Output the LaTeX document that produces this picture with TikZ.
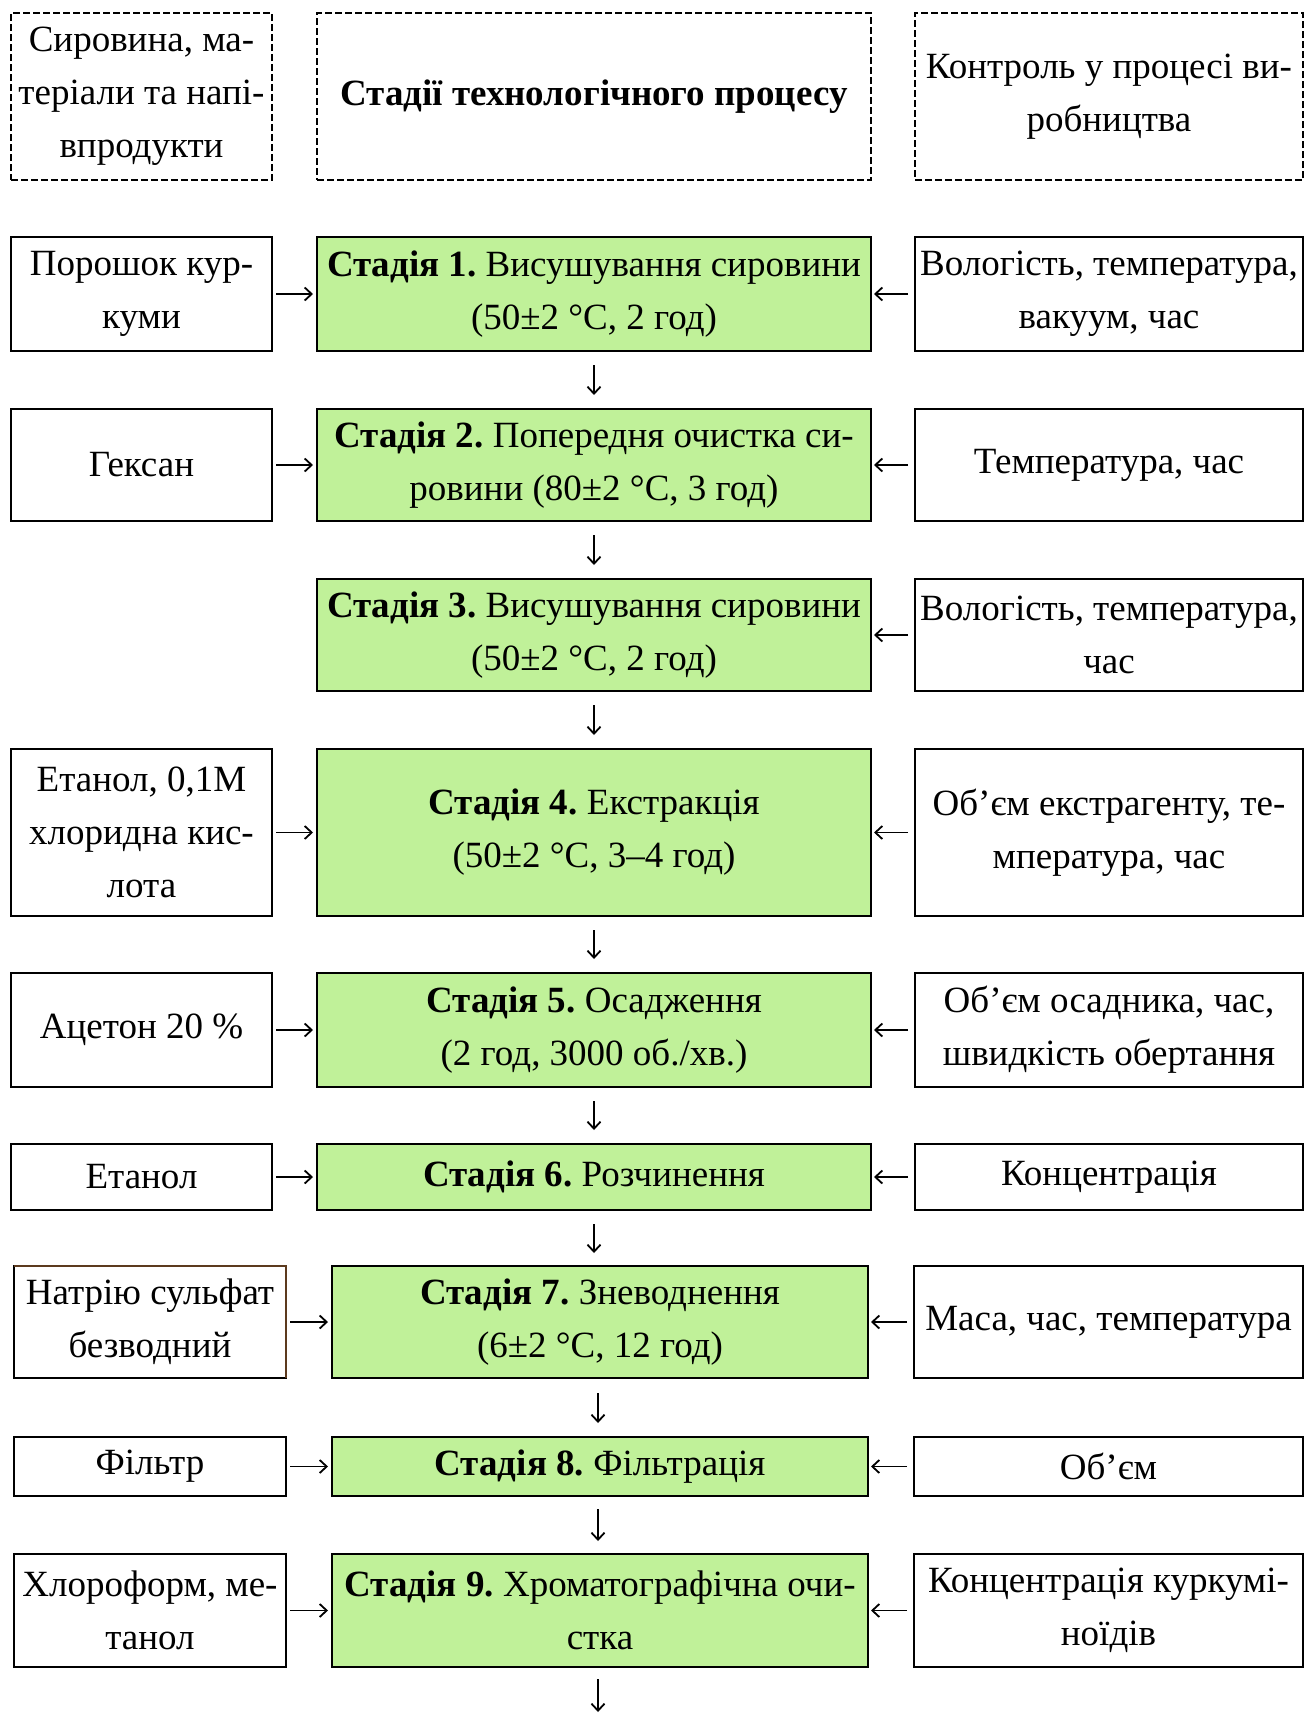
\documentclass[tikz,border=0pt]{standalone}
\usepackage{fontspec}
\setmainfont{Liberation Serif}
\usetikzlibrary{arrows.meta}
\frenchspacing
\definecolor{stagegreen}{RGB}{192,241,153}
\definecolor{brownedge}{RGB}{92,58,30}
\tikzset{
  txt/.style={align=center, inner sep=0pt, outer sep=0pt, font=\fontsize{37}{53}\selectfont},
  hdrbox/.style={txt, draw, line width=2pt, dash pattern=on 7pt off 3pt},
  plainbox/.style={txt, draw, line width=2.6pt},
  stagebox/.style={plainbox, fill=stagegreen},
  conn/.style={-{Straight Barb[length=7pt,width=13pt]}, line width=1.8pt},
}
\begin{document}
\begin{tikzpicture}[x=1pt,y=-1pt]
\useasboundingbox (0,0) rectangle (1304,1719);
% headers
\node[hdrbox, minimum width=261, minimum height=167] (hl) at (141.5,96.5) {Сировина, ма-\\теріали та напі-\\впродукти};
\node[hdrbox, minimum width=554, minimum height=167] (hm) at (594,96.5) {\textbf{Стадії технологічного процесу}};
\node[hdrbox, minimum width=388, minimum height=167] (hr) at (1109,96.5) {Контроль у процесі ви-\\робництва};
% row 1
\node[plainbox, minimum width=261, minimum height=114] (l1) at (141.5,294) {Порошок кур-\\куми};
\node[stagebox, minimum width=554, minimum height=114] (s1) at (594,294) {\textbf{Стадія 1.} Висушування сировини\\(50±2 °С, 2 год)};
\node[plainbox, minimum width=388, minimum height=114] (r1) at (1109,294) {Вологість, температура,\\вакуум, час};
% row 2
\node[plainbox, minimum width=261, minimum height=112] (l2) at (141.5,465) {Гексан};
\node[stagebox, minimum width=554, minimum height=112] (s2) at (594,465) {\textbf{Стадія 2.} Попередня очистка си-\\ровини (80±2 °С, 3 год)};
\node[plainbox, minimum width=388, minimum height=112] (r2) at (1109,465) {Температура, час};
% row 3
\node[stagebox, minimum width=554, minimum height=112] (s3) at (594,635) {\textbf{Стадія 3.} Висушування сировини\\(50±2 °С, 2 год)};
\node[plainbox, minimum width=388, minimum height=112] (r3) at (1109,635) {Вологість, температура,\\час};
% row 4
\node[plainbox, minimum width=261, minimum height=167] (l4) at (141.5,832.5) {Етанол, 0,1М\\хлоридна кис-\\лота};
\node[stagebox, minimum width=554, minimum height=167] (s4) at (594,832.5) {\textbf{Стадія 4.} Екстракція\\(50±2 °С, 3–4 год)};
\node[plainbox, minimum width=388, minimum height=167] (r4) at (1109,832.5) {Об’єм екстрагенту, те-\\мпература, час};
% row 5
\node[plainbox, minimum width=261, minimum height=114] (l5) at (141.5,1030) {Ацетон 20 \%};
\node[stagebox, minimum width=554, minimum height=114] (s5) at (594,1030) {\textbf{Стадія 5.} Осадження\\(2 год, 3000 об./хв.)};
\node[plainbox, minimum width=388, minimum height=114] (r5) at (1109,1030) {Об’єм осадника, час,\\швидкість обертання};
% row 6
\node[plainbox, minimum width=261, minimum height=66] (l6) at (141.5,1177) {Етанол};
\node[stagebox, minimum width=554, minimum height=66] (s6) at (594,1177) {\textbf{Стадія 6.} Розчинення};
\node[plainbox, minimum width=388, minimum height=66] (r6) at (1109,1177) {Концентрація};
% row 7
\node[plainbox, minimum width=272, minimum height=112] (l7) at (150,1322) {Натрію сульфат\\безводний};
\draw[brownedge, line width=2pt] (l7.north west) -- (l7.north east) -- (l7.south east);
\node[stagebox, minimum width=536, minimum height=112] (s7) at (600,1322) {\textbf{Стадія 7.} Зневоднення\\(6±2 °С, 12 год)};
\node[plainbox, minimum width=389, minimum height=112] (r7) at (1108.5,1322) {Маса, час, температура};
% row 8
\node[plainbox, minimum width=272, minimum height=59] (l8) at (150,1466.5) {Фільтр};
\node[stagebox, minimum width=536, minimum height=59] (s8) at (600,1466.5) {\textbf{Стадія 8.} Фільтрація};
\node[plainbox, minimum width=389, minimum height=59] (r8) at (1108.5,1466.5) {Об’єм};
% row 9
\node[plainbox, minimum width=272, minimum height=113] (l9) at (150,1610.5) {Хлороформ, ме-\\танол};
\node[stagebox, minimum width=536, minimum height=113] (s9) at (600,1610.5) {\textbf{Стадія 9.} Хроматографічна очи-\\стка};
\node[plainbox, minimum width=389, minimum height=113] (r9) at (1108.5,1610.5) {Концентрація куркумі-\\ноїдів};
\coordinate (endpt) at (598,1712);
% horizontal connectors
\foreach \i in {1,2,4,5,6,7,8,9} {
  \draw[conn, shorten <=4pt, shorten >=4pt] (l\i.east) -- (s\i.west);
}
\foreach \i in {1,...,9} {
  \draw[conn, shorten <=7pt, shorten >=3pt] (r\i.west) -- (s\i.east);
}
% vertical connectors
\draw[conn, shorten <=14pt, shorten >=14pt] (s1.south) -- (s2.north);
\draw[conn, shorten <=14pt, shorten >=14pt] (s2.south) -- (s3.north);
\draw[conn, shorten <=14pt, shorten >=14pt] (s3.south) -- (s4.north);
\draw[conn, shorten <=14pt, shorten >=14pt] (s4.south) -- (s5.north);
\draw[conn, shorten <=14pt, shorten >=14pt] (s5.south) -- (s6.north);
\draw[conn, shorten <=14pt, shorten >=13pt] (s6.south) -- (s6.south |- s7.north);
\draw[conn, shorten <=15pt, shorten >=14pt] ([xshift=-2pt]s7.south) -- ([xshift=-2pt]s8.north);
\draw[conn, shorten <=13pt, shorten >=13pt] ([xshift=-2pt]s8.south) -- ([xshift=-2pt]s9.north);
\draw[conn, shorten <=12pt] (s9.south -| endpt) -- (endpt);
\end{tikzpicture}
\end{document}
